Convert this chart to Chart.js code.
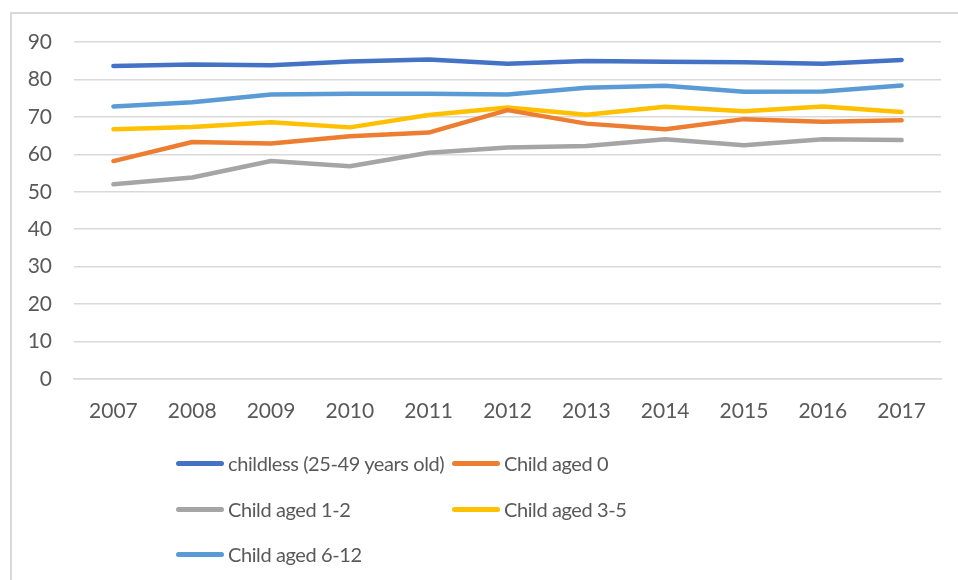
<!DOCTYPE html>
<html>
<head>
<meta charset="utf-8">
<script src="https://cdn.jsdelivr.net/npm/chart.js@4/dist/chart.umd.min.js"></script>
<style>
  html, body { margin: 0; padding: 0; background: #fff; }
  #wrap { position: relative; width: 958px; height: 580px; overflow: hidden; }
  #frame { position: absolute; left: 10px; top: 12px; width: 1000px; height: 700px;
           border-left: 2px solid #d9d9d9; border-top: 2px solid #d9d9d9; }
  canvas { position: absolute; left: 0; top: 0; }
  .item { position: absolute; height: 30px; display: flex; align-items: center;
          font-family: Lato, sans-serif; font-size: 20px; letter-spacing: -0.4px;
          color: #595959; white-space: nowrap; }
  .item span.sw { display: inline-block; width: 48px; height: 5px; border-radius: 3px; margin-right: 4px; }
</style>
</head>
<body>
<div id="wrap">
  <div id="frame"></div>
  <canvas id="c" width="958" height="580"></canvas>
  <div id="legend"></div>
</div>
<script>
var years = ["2007", "2008", "2009", "2010", "2011", "2012", "2013", "2014", "2015", "2016", "2017"];
var childless = [83.6, 84.0, 83.8, 84.8, 85.3, 84.2, 84.9, 84.7, 84.6, 84.2, 85.2];
var aged0 = [58.2, 63.3, 62.9, 64.8, 65.8, 71.8, 68.2, 66.7, 69.4, 68.7, 69.1];
var aged1to2 = [52.0, 53.8, 58.2, 56.8, 60.4, 61.8, 62.2, 64.0, 62.4, 64.0, 63.8];
var aged3to5 = [66.7, 67.3, 68.6, 67.2, 70.5, 72.5, 70.6, 72.7, 71.5, 72.8, 71.3];
var aged6to12 = [72.8, 73.9, 76.0, 76.2, 76.2, 76.0, 77.8, 78.3, 76.7, 76.8, 78.4];

var seriesNames = ["childless (25-49 years old)", "Child aged 0", "Child aged 1-2", "Child aged 3-5", "Child aged 6-12"];
var seriesData = [childless, aged0, aged1to2, aged3to5, aged6to12];
var colors = ["#4472C4", "#ED7D31", "#A5A5A5", "#FFC000", "#5B9BD5"];

var font = { family: "Lato, sans-serif", size: 21 };

var datasets = seriesNames.map(function (name, i) {
    return {
        label: name,
        data: seriesData[i],
        borderColor: colors[i],
        backgroundColor: colors[i],
        borderWidth: 4.5,
        borderCapStyle: "round",
        borderJoinStyle: "round",
        pointRadius: 0,
        tension: 0
    };
});

new Chart(document.getElementById("c").getContext("2d"), {
    type: "line",
    data: { labels: years, datasets: datasets },
    options: {
        responsive: false,
        animation: false,
        layout: { padding: { top: 42, right: 17, left: 0, bottom: 0 } },
        plugins: { legend: { display: false }, tooltip: { enabled: false } },
        scales: {
            x: {
                offset: true,
                grid: { display: false, drawTicks: false },
                border: { color: "#d9d9d9", width: 1.5 },
                ticks: { color: "#595959", font: font, padding: 20, maxRotation: 0 },
                afterFit: function (s) { s.height = 580 - 379; }
            },
            y: {
                min: 0,
                max: 90,
                grid: { color: "#d9d9d9", lineWidth: 1.5, drawTicks: false },
                border: { display: false },
                ticks: { stepSize: 10, color: "#595959", font: font, padding: 22 },
                afterFit: function (s) { s.width = 74; }
            }
        }
    }
});

// legend laid out in columns like the source
var legendPos = [[176, 463], [452, 463], [176, 509], [452, 509], [176, 554]];
var legend = document.getElementById("legend");
seriesNames.forEach(function (name, i) {
    var item = document.createElement("div");
    item.className = "item";
    item.style.left = legendPos[i][0] + "px";
    item.style.top = (legendPos[i][1] - 15) + "px";
    var sw = document.createElement("span");
    sw.className = "sw";
    sw.style.background = colors[i];
    item.appendChild(sw);
    item.appendChild(document.createTextNode(name));
    legend.appendChild(item);
});
</script>
</body>
</html>
